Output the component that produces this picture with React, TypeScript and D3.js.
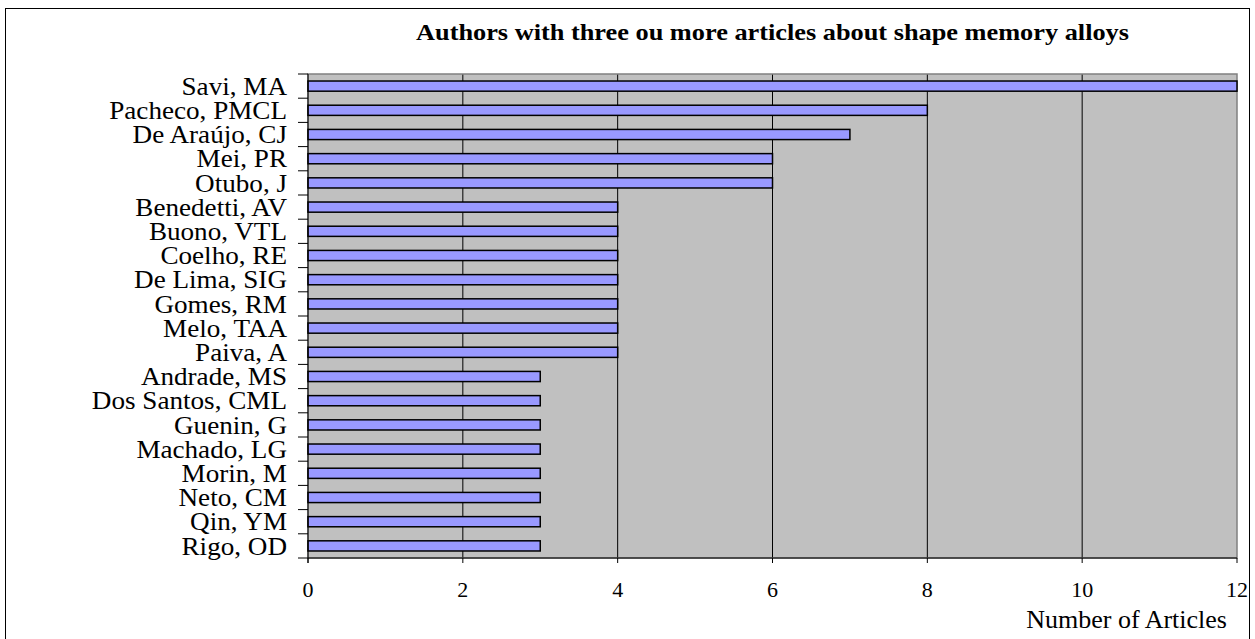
import React from "react";
import * as d3 from "d3";

const authors = [
  "Savi, MA", "Pacheco, PMCL", "De Araújo, CJ", "Mei, PR", "Otubo, J",
  "Benedetti, AV", "Buono, VTL", "Coelho, RE", "De Lima, SIG", "Gomes, RM",
  "Melo, TAA", "Paiva, A", "Andrade, MS", "Dos Santos, CML", "Guenin, G",
  "Machado, LG", "Morin, M", "Neto, CM", "Qin, YM", "Rigo, OD",
];
const articles = [12, 8, 7, 6, 6, 4, 4, 4, 4, 4, 4, 4, 3, 3, 3, 3, 3, 3, 3, 3];
const xTicks = [0, 2, 4, 6, 8, 10, 12];
const title = "Authors with three ou more articles about shape memory alloys";
const xTitle = "Number of Articles";

const W = 1255, H = 639;
const M = { left: 308, right: 1237, top: 74, bottom: 558 };
const FONT = "'Liberation Serif', 'Times New Roman', serif";

export default function App() {
  const x = d3.scaleLinear().domain([0, 12]).range([M.left, M.right]);
  const y = d3.scaleBand<string>().domain(authors).range([M.top, M.bottom]).paddingInner(0.58).paddingOuter(0.29);
  const yOuter = d3.scaleBand<string>().domain(authors).range([M.top, M.bottom]);
  return (
    <svg width={W} height={H} style={{ position: "absolute", left: 0, top: 0, display: "block" }}>
      <rect x={5.5} y={8.5} width={1244} height={640} fill="#fff" stroke="#000" strokeWidth={1} />
      <text
        x={(M.left + M.right) / 2}
        y={40}
        textAnchor="middle"
        fontFamily={FONT}
        fontWeight="bold"
        fontSize={24}
        textLength={713}
        lengthAdjust="spacingAndGlyphs"
      >
        {title}
      </text>
      <rect x={M.left} y={M.top} width={M.right - M.left} height={M.bottom - M.top} fill="#c0c0c0" />
      {xTicks.slice(1, -1).map((t) => (
        <line key={t} x1={x(t)} x2={x(t)} y1={M.top} y2={M.bottom} stroke="#000" strokeWidth={1} />
      ))}
      <rect x={M.left} y={M.top} width={M.right - M.left} height={M.bottom - M.top} fill="none" stroke="#808080" strokeWidth={1.5} />
      {authors.map((a, i) => (
        <rect
          key={a}
          x={x(0)}
          y={y(a)!}
          width={x(articles[i]) - x(0)}
          height={y.bandwidth()}
          fill="#9999ff"
          stroke="#000"
          strokeWidth={1.5}
        />
      ))}
      {/* y axis */}
      <line x1={M.left} x2={M.left} y1={M.top} y2={M.bottom + 5} stroke="#000" strokeWidth={1} />
      {authors.map((a) => (
        <line key={"t" + a} x1={M.left - 10} x2={M.left} y1={yOuter(a)!} y2={yOuter(a)!} stroke="#000" strokeWidth={1} />
      ))}
      <line x1={M.left - 10} x2={M.left} y1={M.bottom} y2={M.bottom} stroke="#000" strokeWidth={1} />
      {authors.map((a) => (
        <text
          key={"l" + a}
          transform={`translate(287, ${yOuter(a)! + yOuter.bandwidth() / 2}) scale(1.085, 1)`}
          dy="0.35em"
          textAnchor="end"
          fontFamily={FONT}
          fontSize={25}
        >
          {a}
        </text>
      ))}
      {/* x axis */}
      <line x1={M.left} x2={M.right} y1={M.bottom} y2={M.bottom} stroke="#000" strokeWidth={1} />
      {xTicks.map((t) => (
        <g key={"x" + t}>
          <line x1={x(t)} x2={x(t)} y1={M.bottom} y2={M.bottom + 5} stroke="#000" strokeWidth={1} />
          <text x={x(t)} y={597} textAnchor="middle" fontFamily={FONT} fontSize={22}>
            {t}
          </text>
        </g>
      ))}
      <text x={1227} y={628} textAnchor="end" fontFamily={FONT} fontSize={26}>
        {xTitle}
      </text>
    </svg>
  );
}
